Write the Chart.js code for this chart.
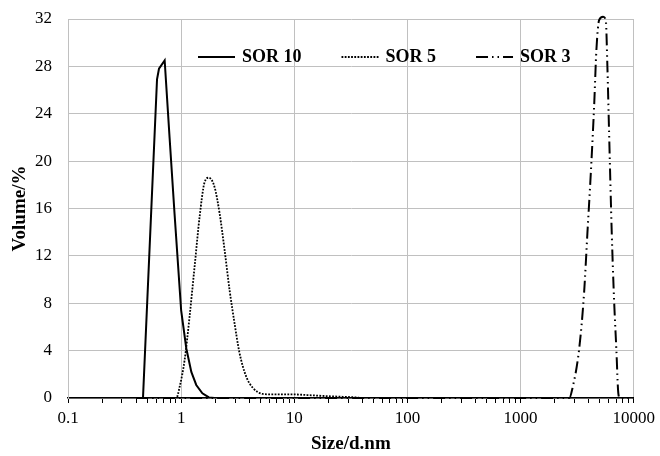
<!DOCTYPE html>
<html>
<head>
<meta charset="utf-8">
<script src="https://cdn.jsdelivr.net/npm/chart.js@4.4.0/dist/chart.umd.min.js"></script>
<style>
    body { margin: 0; background: #fff; }
    #wrap { width: 660px; height: 456px; }
</style>
</head>
<body>
<div id="wrap"><canvas id="size-chart" width="660" height="456"></canvas></div>
<script>
// size distribution (size in d.nm, volume in %)
const sor10Size = [0.4, 0.46, 0.612, 0.637, 0.715, 0.79, 0.875, 1.0, 1.11, 1.23, 1.36, 1.54, 1.76, 1.97, 10000];
const sor10Vol = [0, 0, 26.9, 27.8, 28.5, 22, 15.5, 7.4, 4.2, 2.2, 1.1, 0.4, 0.05, 0, 0];

const sor5Size = [0.4, 0.907, 0.97, 1.073, 1.188, 1.315, 1.456, 1.61, 1.759, 1.975, 2.186, 2.42, 2.68, 2.965, 3.28, 3.76, 4.31, 5.27, 6.5, 8, 10, 13, 20, 35, 40, 10000];
const sor5Vol = [0, 0, 0.95, 3.2, 6.9, 11.1, 15.3, 18.2, 18.6, 17.8, 15.6, 12.5, 9.1, 6.3, 3.8, 1.8, 0.85, 0.34, 0.3, 0.3, 0.3, 0.25, 0.15, 0.05, 0, 0];

const sor3Size = [0.4, 2700, 2853, 3289, 3641, 3893, 4174, 4463, 4677, 4940, 5358, 5662, 5848, 6055, 6393, 6700, 7020, 7307, 7560, 10000];
const sor3Vol = [0, 0, 0.7, 4.1, 8.9, 13.9, 19, 24.6, 29.4, 31.9, 32.2, 31.9, 28, 22.4, 13.9, 8.3, 4.1, 0.4, 0, 0];

const decades = [0.1, 1, 10, 100, 1000, 10000];
const yTicks = [0, 4, 8, 12, 16, 20, 24, 28, 32];

const serif = '"Liberation Serif", "Times New Roman", serif';
const gridGrey = '#c0c0c0';

// decade ticks plus the 2..9 minor ticks between them
const xTickValues = [];
decades.forEach((d, i) => {
    xTickValues.push(d);
    if (i < decades.length - 1) {
        for (let k = 2; k <= 9; k++) xTickValues.push(d * k);
    }
});

function toPoints(sizes, vols) {
    return sizes.map((s, i) => ({ x: s, y: vols[i] }));
}

// legend sits inside the plot, above the 28 line
const inlineLegend = {
    id: 'inlineLegend',
    afterDatasetsDraw(chart) {
        const { ctx, chartArea } = chart;
        ctx.save();
        ctx.font = 'bold 18px ' + serif;
        ctx.textBaseline = 'middle';
        let x = chartArea.left + 130;
        const y = chartArea.top + 38;
        chart.data.datasets.forEach(ds => {
            ctx.strokeStyle = ds.borderColor;
            ctx.lineWidth = ds.borderWidth;
            ctx.setLineDash(ds.borderDash || []);
            ctx.beginPath();
            ctx.moveTo(x, y);
            ctx.lineTo(x + 37, y);
            ctx.stroke();
            ctx.setLineDash([]);
            ctx.fillStyle = '#000';
            ctx.fillText(ds.label, x + 44, y);
            x += 44 + ctx.measureText(ds.label).width + 40;
        });
        ctx.restore();
    }
};

new Chart(document.getElementById('size-chart'), {
    type: 'scatter',
    data: {
        datasets: [{
            label: 'SOR 10',
            data: toPoints(sor10Size, sor10Vol),
            borderColor: '#000',
            borderWidth: 2,
        }, {
            label: 'SOR 5',
            data: toPoints(sor5Size, sor5Vol),
            borderColor: '#000',
            borderWidth: 1.8,
            borderDash: [1.8, 1.4],
            cubicInterpolationMode: 'monotone',
        }, {
            label: 'SOR 3',
            data: toPoints(sor3Size, sor3Vol),
            borderColor: '#000',
            borderWidth: 2,
            borderDash: [12, 4, 1.5, 4, 1.5, 4],
            cubicInterpolationMode: 'monotone',
            clip: 4,
        }]
    },
    options: {
        responsive: false,
        animation: false,
        showLine: true,
        elements: {
            point: { radius: 0, hoverRadius: 0 },
            line: { tension: 0, fill: false }
        },
        layout: { padding: { top: 19, right: 26, left: 0, bottom: 0 } },
        plugins: {
            legend: { display: false },
            tooltip: { enabled: false }
        },
        scales: {
            x: {
                type: 'logarithmic',
                min: 0.1,
                max: 10000,
                afterBuildTicks: axis => { axis.ticks = xTickValues.map(v => ({ value: v })); },
                afterFit: axis => { axis.height = 58; },
                ticks: {
                    autoSkip: false,
                    maxRotation: 0,
                    minRotation: 0,
                    padding: 5,
                    color: '#000',
                    font: { family: serif, size: 17 },
                    callback: v => decades.includes(v) ? String(v) : ''
                },
                grid: {
                    color: ctx => ctx.tick && decades.includes(ctx.tick.value) ? gridGrey : 'rgba(0,0,0,0)',
                    tickColor: '#000',
                    tickLength: 5,
                    tickWidth: 1
                },
                border: { color: '#000', width: 1.5 },
                title: {
                    display: true,
                    text: 'Size/d.nm',
                    color: '#000',
                    font: { family: serif, size: 19, weight: 'bold' },
                    padding: { top: 0, bottom: 1 }
                }
            },
            y: {
                min: 0,
                max: 32,
                afterBuildTicks: axis => { axis.ticks = yTicks.map(v => ({ value: v })); },
                afterFit: axis => { axis.width = 68; },
                ticks: {
                    padding: 2,
                    color: '#000',
                    font: { family: serif, size: 17 }
                },
                grid: { color: gridGrey, tickColor: 'rgba(0,0,0,0)', tickLength: 14 },
                border: { color: gridGrey },
                title: {
                    display: true,
                    text: 'Volume/%',
                    color: '#000',
                    font: { family: serif, size: 19, weight: 'bold' },
                    padding: { top: 9, bottom: 0 }
                }
            }
        }
    },
    plugins: [inlineLegend]
});
</script>
</body>
</html>
